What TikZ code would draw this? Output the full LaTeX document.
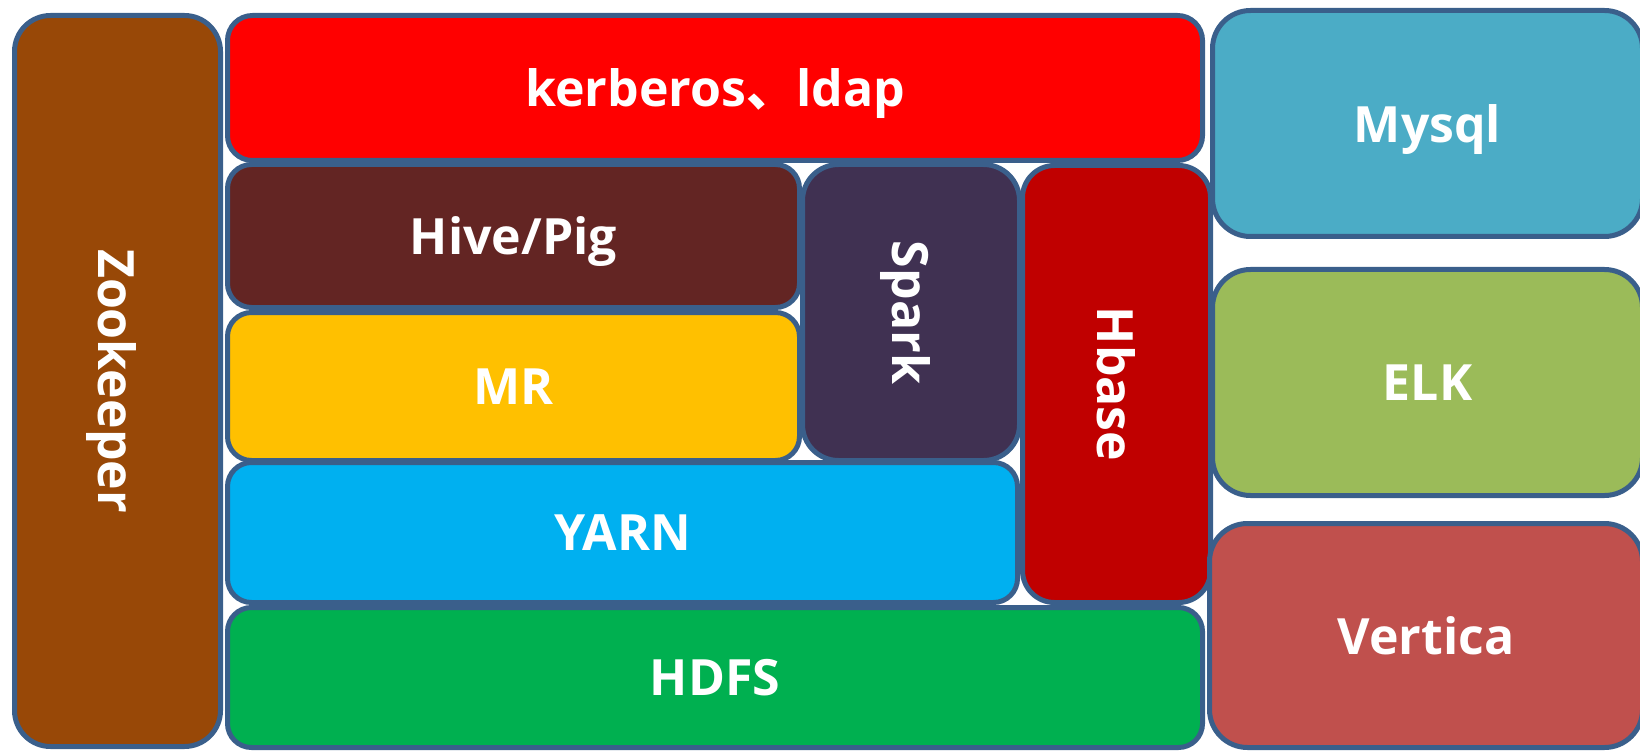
\documentclass[tikz,border=0pt]{standalone}
\usepackage{fontspec}
\setmainfont{Open Sans}
\newfontfamily\cjk{Noto Sans CJK SC}
\definecolor{edgeblue}{HTML}{3A5F8B}
\definecolor{zkbrown}{HTML}{984807}
\definecolor{krbred}{HTML}{FF0000}
\definecolor{hivebrown}{HTML}{632523}
\definecolor{mryellow}{HTML}{FFC000}
\definecolor{sparkpurple}{HTML}{403152}
\definecolor{hbasered}{HTML}{C00000}
\definecolor{yarnblue}{HTML}{00B0F0}
\definecolor{hdfsgreen}{HTML}{00B050}
\definecolor{mysqlblue}{HTML}{4BACC6}
\definecolor{elkgreen}{HTML}{9BBB59}
\definecolor{verticared}{HTML}{C0504D}

\begin{document}
\begin{tikzpicture}[x=1pt,y=-1pt,
  layer/.style={rectangle,draw=edgeblue,line width=5pt,text=white,inner sep=0,
    text depth=0pt,font=\fontsize{50}{58}\selectfont\bfseries},
  vert/.style={layer,rotate=-90}]
\useasboundingbox (0,0) rectangle (1640,751);
\clip (0,0) rectangle (1640,751);

%% left column
\node[vert,fill=zkbrown,rounded corners=36pt,minimum width=731pt,minimum height=206pt]
  (zookeeper) at (117.5,381) {Zookeeper};

%% security layer on top
\node[layer,fill=krbred,rounded corners=25pt,minimum width=975pt,minimum height=145pt]
  (kerberos) at (715,88) {kerberos{\cjk\bfseries 、}ldap};

%% compute stack
\node[layer,fill=hivebrown,rounded corners=24pt,minimum width=572pt,minimum height=143pt]
  (hive) at (513.5,236) {Hive/Pig};
\node[layer,fill=mryellow,rounded corners=24pt,minimum width=572pt,minimum height=148pt]
  (mr) at (513.5,386.5) {MR};
\node[vert,fill=sparkpurple,rounded corners=36pt,minimum width=296pt,minimum height=217pt]
  (spark) at (911,312.5) {Spark};
\node[vert,fill=hbasered,rounded corners=32pt,minimum width=437pt,minimum height=188pt]
  (hbase) at (1116.5,384) {Hbase};
\node[layer,fill=yarnblue,rounded corners=24pt,minimum width=790pt,minimum height=140pt]
  (yarn) at (622.5,532.5) {YARN};
\node[layer,fill=hdfsgreen,rounded corners=24pt,minimum width=975pt,minimum height=140pt]
  (hdfs) at (715,677.5) {HDFS};

%% stores on the right
\node[layer,fill=mysqlblue,rounded corners=38pt,minimum width=430pt,minimum height=226pt]
  (mysql) at (1427.5,123.5) {Mysql};
\node[layer,fill=elkgreen,rounded corners=38pt,minimum width=430pt,minimum height=226pt]
  (elk) at (1427.5,382.5) {ELK};
\node[layer,fill=verticared,rounded corners=38pt,minimum width=433pt,minimum height=224pt]
  (vertica) at (1426,635.5) {Vertica};
\end{tikzpicture}
\end{document}
